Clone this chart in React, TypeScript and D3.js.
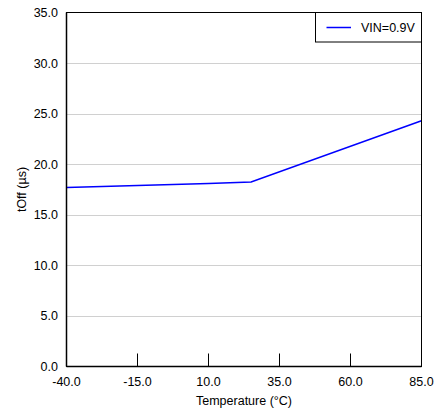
import React from "react";
import * as d3 from "d3";

const temps = [-40, -15, 10, 25, 85];
const toff = [17.7, 17.9, 18.1, 18.25, 24.3];
const xTicks = [-40, -15, 10, 35, 60, 85];
const yTicks = [0, 5, 10, 15, 20, 25, 30, 35];
const seriesName = "VIN=0.9V";

export default function App() {
  const W = 440, H = 409;
  const m = { left: 66.5, right: 421.5, top: 12.5, bottom: 366.5 };
  const x = d3.scaleLinear().domain([-40, 85]).range([m.left, m.right]);
  const y = d3.scaleLinear().domain([0, 35]).range([m.bottom, m.top]);
  const line = d3.line<number>().x((_, i) => x(temps[i])).y((d) => y(d));
  const font = "Liberation Sans, Arial, sans-serif";
  const fs = 12.5;
  return (
    <svg width={W} height={H} style={{ position: "absolute", left: 0, top: 0 }} fontFamily={font}>
      <rect x={0} y={0} width={W} height={H} fill="#fff" />
      {yTicks.filter((t) => t > 0 && t < 35).map((t) => (
        <line key={t} x1={m.left} x2={m.right} y1={Math.round(y(t)) + 0.5} y2={Math.round(y(t)) + 0.5} stroke="#d0d0d0" strokeWidth={1} />
      ))}
      {xTicks.filter((t) => t > -40 && t < 85).map((t) => (
        <line key={t} x1={x(t)} x2={x(t)} y1={m.bottom} y2={m.bottom - 13} stroke="#000" strokeWidth={1} />
      ))}
      <path d={line(toff) || ""} fill="none" stroke="#0000ff" strokeWidth={1.5} />
      <rect x={m.left} y={m.top} width={m.right - m.left} height={m.bottom - m.top} fill="none" stroke="#000" strokeWidth={1} />
      <line x1={m.left} x2={m.left} y1={m.top} y2={m.bottom} stroke="#000" strokeWidth={1.5} />
      <line x1={m.left} x2={m.right} y1={m.bottom} y2={m.bottom} stroke="#000" strokeWidth={1.5} />
      {yTicks.map((t) => (
        <text key={t} x={58} y={y(t) + 4.5} textAnchor="end" fontSize={fs} fill="#000">
          {t.toFixed(1)}
        </text>
      ))}
      {xTicks.map((t) => (
        <text key={t} x={x(t)} y={386} textAnchor="middle" fontSize={fs} fill="#000">
          {t.toFixed(1)}
        </text>
      ))}
      <text x={(m.left + m.right) / 2} y={405} textAnchor="middle" fontSize={fs} fill="#000">
        Temperature (°C)
      </text>
      <text transform={`translate(26,${(m.top + m.bottom) / 2}) rotate(-90)`} textAnchor="middle" fontSize={fs} fill="#000">
        tOff (µs)
      </text>
      <rect x={315.5} y={m.top} width={m.right - 315.5} height={29.5} fill="#fff" stroke="#000" strokeWidth={1} />
      <line x1={326.5} x2={351} y1={27.5} y2={27.5} stroke="#0000ff" strokeWidth={1.5} />
      <text x={361} y={32} fontSize={fs} fill="#000">{seriesName}</text>
    </svg>
  );
}
